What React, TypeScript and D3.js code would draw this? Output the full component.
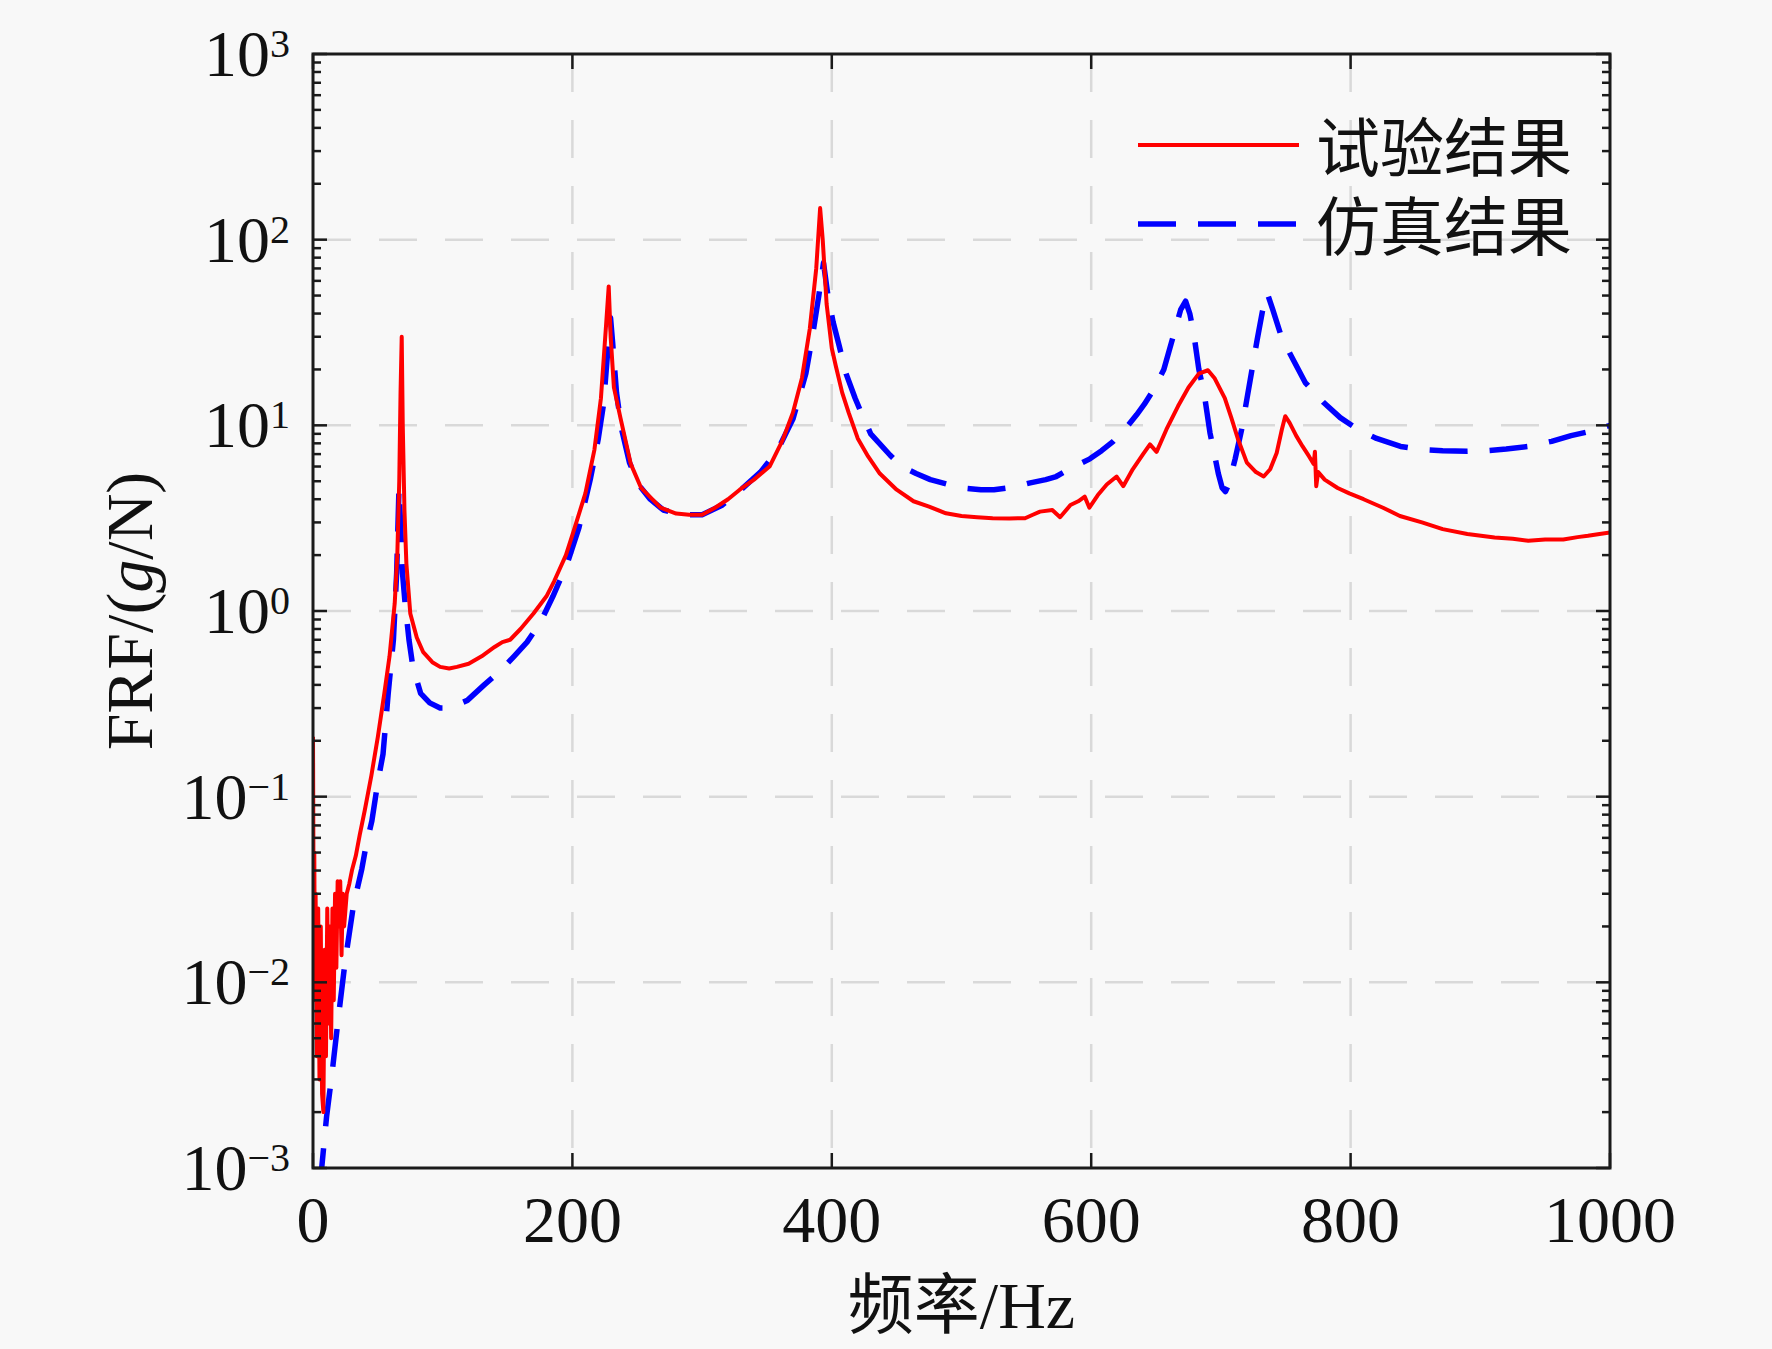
import * as d3 from "d3";

/** svg dimensions */
const width = 1772;
const height = 1349;
const margin = { left: 313, right: 162, top: 54, bottom: 181 };
const plotRight = width - margin.right;
const plotBottom = height - margin.bottom;

const serif = "'Liberation Serif', 'Times New Roman', 'Noto Sans CJK SC', serif";

// frequency (Hz), FRF (g/N)
const testCurve: [number, number][] = [
  [0, 0.21], [0.5, 0.02], [1, 0.05], [1.5, 0.008], [2, 0.03], [3, 0.004],
  [4, 0.025], [5, 0.003], [6, 0.02], [7, 0.0025], [8, 0.002], [9, 0.015],
  [10, 0.004], [11, 0.025], [12, 0.006], [13, 0.02], [14, 0.005], [15, 0.025],
  [16, 0.008], [17, 0.03], [18, 0.012], [19, 0.035], [20, 0.02], [21, 0.035],
  [22, 0.014], [23, 0.03], [24, 0.02], [26, 0.03], [28, 0.034], [30, 0.04],
  [33, 0.048], [36, 0.062], [40, 0.085], [45, 0.13], [50, 0.21], [55, 0.36],
  [59, 0.57], [63, 1.1], [65, 2.0], [66.5, 5], [67.5, 15], [68.4, 30],
  [69.2, 10], [70.5, 3.5], [72, 1.8], [75, 0.97], [80, 0.72], [85, 0.6],
  [92, 0.53], [98, 0.5], [105, 0.49], [111, 0.5], [120, 0.52], [130, 0.57],
  [140, 0.64], [146, 0.68], [152, 0.7], [160, 0.8], [170, 0.97], [180, 1.2],
  [186, 1.45], [195, 2.0], [201, 2.7], [210, 4.3], [217, 7.4], [222, 14],
  [226, 35], [228, 56], [229.5, 30], [232, 16], [237, 11], [245, 6.2],
  [253, 4.6], [260, 4.1], [268, 3.6], [280, 3.35], [290, 3.3], [300, 3.3],
  [310, 3.6], [320, 4.0], [329, 4.5], [340, 5.1], [352, 6.0], [362, 8.3],
  [370, 11.7], [377, 18], [383, 33], [388, 70], [391, 148], [393, 100],
  [396, 45], [400, 26], [403, 21], [408, 15], [413, 11.7], [420, 8.5],
  [428, 6.8], [437, 5.5], [450, 4.5], [463, 3.9], [475, 3.65], [488, 3.36],
  [500, 3.25], [512, 3.2], [524, 3.16], [537, 3.15], [549, 3.16], [555, 3.3],
  [560.5, 3.43], [570, 3.5], [576, 3.2], [584, 3.72], [590, 3.9], [595, 4.13],
  [598.6, 3.6], [605, 4.2], [612, 4.8], [619.6, 5.3], [624.7, 4.7], [632, 5.8],
  [640, 7.0], [645.3, 7.9], [650.4, 7.2], [658, 9.5], [667, 12.7], [675, 16],
  [683, 19], [690, 19.8], [695, 18], [703, 14], [708, 11], [713, 8.5],
  [720, 6.3], [727, 5.6], [733, 5.3], [738, 5.8], [743, 7.1], [747, 9.5],
  [749.6, 11.2], [753, 10.3], [758, 8.8], [763, 7.7], [768, 6.8], [771.5, 6.2],
  [772.5, 7.2], [773.5, 4.7], [775, 5.6], [780, 5.1], [790, 4.6], [799, 4.3],
  [810, 4.0], [825, 3.6], [838, 3.25], [855, 3.0], [871, 2.76], [890, 2.6],
  [911, 2.49], [925, 2.45], [937, 2.39], [950, 2.43], [964, 2.43], [975, 2.5],
  [983, 2.54], [992, 2.6], [1000, 2.65],
];

// frequency (Hz), FRF (g/N)
const simCurve: [number, number][] = [
  [5, 0.0008], [6.7, 0.001], [10.5, 0.0019], [14.6, 0.0032], [19.7, 0.0066],
  [24.8, 0.013], [31.2, 0.026], [37.7, 0.041], [41, 0.055], [45.4, 0.074],
  [50, 0.12], [54, 0.17], [58, 0.36], [62, 0.7], [64.5, 1.6], [66.3, 4.6],
  [67.5, 3], [69, 1.6], [71, 1.1], [74, 0.7], [77, 0.5], [83, 0.36],
  [90, 0.32], [98, 0.3], [105, 0.3], [119, 0.33], [132, 0.4], [145, 0.48],
  [155, 0.57], [165, 0.68], [175, 0.86], [185, 1.2], [196, 1.8], [205, 2.8],
  [214, 5.2], [220, 8.5], [224, 13], [227, 24], [229.4, 38], [231, 28],
  [234, 15], [238, 9.5], [244, 6.3], [252, 4.7], [260, 4.0], [270, 3.5],
  [285, 3.3], [300, 3.3], [315, 3.7], [330, 4.5], [345, 5.6], [358, 7.3],
  [370, 10.8], [380, 19], [385, 30], [390, 50], [393.6, 75], [397, 50],
  [401, 36], [405.6, 27], [411, 19], [418, 14], [422, 12], [430, 9],
  [445, 6.9], [454, 6.0], [465, 5.5], [476, 5.1], [490, 4.8], [501, 4.6],
  [515, 4.5], [525, 4.5], [540, 4.65], [553, 4.9], [565, 5.1], [573, 5.3],
  [585, 5.9], [599, 6.6], [608, 7.3], [617, 8.2], [627, 9.7], [635, 11.4],
  [641, 13], [648, 15.5], [656, 20], [664, 31.5], [669, 42], [672.8, 46.6],
  [676, 40], [679, 31.5], [683, 20], [687, 15], [691.6, 9.1], [695, 7.0],
  [698, 5.5], [701, 4.6], [703.5, 4.4], [706, 4.8], [711, 6.6], [716, 9.5],
  [720, 13.8], [724, 20], [728, 29], [732, 41], [735.7, 51.6], [740, 42],
  [746, 31], [753, 24.5], [765, 17], [779, 13.3], [792, 11], [805.6, 9.5],
  [820, 8.5], [838.5, 7.7], [855, 7.4], [871, 7.3], [890, 7.25], [904.5, 7.3],
  [920, 7.45], [937, 7.7], [955, 8.2], [970, 8.8], [985, 9.3], [1000, 10],
];

const xTicks = [0, 200, 400, 600, 800, 1000];
const yExponents = [-3, -2, -1, 0, 1, 2, 3];
const legendItems = [
  { label: "试验结果", color: "#ff0000", dash: "none" },
  { label: "仿真结果", color: "#0000ff", dash: "38 22" },
];

const xScale = d3.scaleLinear().domain([0, 1000]).range([margin.left, plotRight]);
const yScale = d3.scaleLog().domain([1e-3, 1e3]).range([plotBottom, margin.top]);

const line = d3
  .line<[number, number]>()
  .x((d) => xScale(d[0]))
  .y((d) => yScale(d[1]));

// minor ticks 2..9 in each decade
const minorTicks = yExponents.slice(0, -1).flatMap((e) =>
  d3.range(2, 10).map((m) => m * Math.pow(10, e))
);

const expLabel = (e: number) => (e < 0 ? `\u2212${-e}` : `${e}`);

const App = () => {
  const axisColor = "#1a1a1a";
  return (
    <svg
      width={width}
      height={height}
      viewBox={[0, 0, width, height].join(" ")}
      style={{ position: "absolute", left: 0, top: 0, background: "#f8f8f8" }}
    >
      <defs>
        <clipPath id="plot-clip">
          <rect
            x={margin.left}
            y={margin.top}
            width={plotRight - margin.left}
            height={plotBottom - margin.top}
          />
        </clipPath>
      </defs>
      <rect width={width} height={height} fill="#f8f8f8" />

      {/* grid */}
      <g stroke="#d9d9d9" strokeWidth={2.5} strokeDasharray="38 28">
        {xTicks.slice(1, -1).map((t) => (
          <line key={t} x1={xScale(t)} x2={xScale(t)} y1={margin.top} y2={plotBottom} />
        ))}
        {yExponents.slice(1, -1).map((e) => (
          <line
            key={e}
            x1={margin.left}
            x2={plotRight}
            y1={yScale(Math.pow(10, e))}
            y2={yScale(Math.pow(10, e))}
          />
        ))}
      </g>

      {/* curves */}
      <g clipPath="url(#plot-clip)" fill="none" strokeLinejoin="round">
        <path d={line(simCurve) ?? ""} stroke="#0000ff" strokeWidth={5.5} strokeDasharray="38 22" />
        <path d={line(testCurve) ?? ""} stroke="#ff0000" strokeWidth={4} />
      </g>

      {/* ticks */}
      <g stroke={axisColor} strokeWidth={2.5}>
        {xTicks.map((t) => (
          <g key={t}>
            <line x1={xScale(t)} x2={xScale(t)} y1={plotBottom} y2={plotBottom - 15} />
            <line x1={xScale(t)} x2={xScale(t)} y1={margin.top} y2={margin.top + 15} />
          </g>
        ))}
        {yExponents.map((e) => {
          const y = yScale(Math.pow(10, e));
          return (
            <g key={e}>
              <line x1={margin.left} x2={margin.left + 14} y1={y} y2={y} />
              <line x1={plotRight} x2={plotRight - 14} y1={y} y2={y} />
            </g>
          );
        })}
        {minorTicks.map((v) => {
          const y = yScale(v);
          return (
            <g key={v}>
              <line x1={margin.left} x2={margin.left + 8} y1={y} y2={y} />
              <line x1={plotRight} x2={plotRight - 8} y1={y} y2={y} />
            </g>
          );
        })}
      </g>

      {/* frame */}
      <rect
        x={margin.left}
        y={margin.top}
        width={plotRight - margin.left}
        height={plotBottom - margin.top}
        fill="none"
        stroke={axisColor}
        strokeWidth={3}
      />

      {/* tick labels */}
      <g fontFamily={serif} fill="#111">
        {xTicks.map((t) => (
          <text key={t} x={xScale(t)} y={plotBottom + 74} fontSize={66} textAnchor="middle">
            {t}
          </text>
        ))}
        {yExponents.map((e) => (
          <text
            key={e}
            x={290}
            y={yScale(Math.pow(10, e)) + 22}
            fontSize={66}
            textAnchor="end"
          >
            10
            <tspan dy={-19} fontSize={40}>
              {expLabel(e)}
            </tspan>
          </text>
        ))}
      </g>

      {/* axis titles */}
      <text
        x={(margin.left + plotRight) / 2}
        y={1328}
        fontFamily={serif}
        fontSize={66}
        textAnchor="middle"
        fill="#111"
      >
        频率/Hz
      </text>
      <text
        transform={`translate(152, ${(margin.top + plotBottom) / 2}) rotate(-90)`}
        fontFamily={serif}
        fontSize={66}
        textAnchor="middle"
        fill="#111"
      >
        FRF/(<tspan fontStyle="italic">g</tspan>/N)
      </text>

      {/* legend */}
      <g>
        {legendItems.map((item, i) => {
          const y = 145 + i * 79;
          return (
            <g key={item.label}>
              <line
                x1={1138}
                x2={1299}
                y1={y}
                y2={y}
                stroke={item.color}
                strokeWidth={item.dash === "none" ? 4 : 5.5}
                strokeDasharray={item.dash}
              />
              <text x={1316} y={y + 26} fontFamily={serif} fontSize={64} fill="#111">
                {item.label}
              </text>
            </g>
          );
        })}
      </g>
    </svg>
  );
};

export default App;
